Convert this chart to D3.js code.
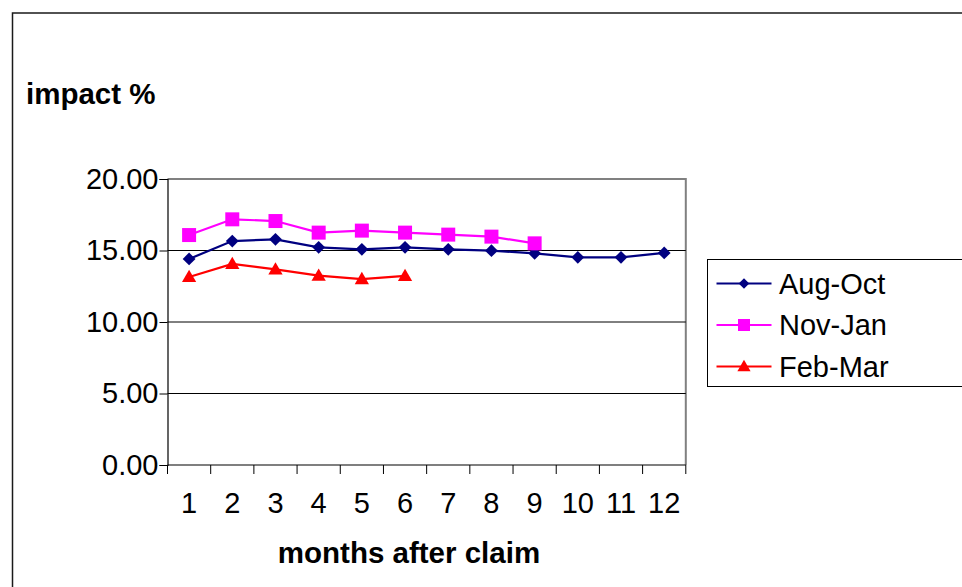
<!DOCTYPE html>
<html>
<head>
<meta charset="utf-8">
<script src="https://cdn.jsdelivr.net/npm/d3@7"></script>
<style>
  html, body { margin: 0; padding: 0; background: #fff; }
  svg { display: block; }
  text { font-family: "Liberation Sans", Arial, sans-serif; fill: #000; }
</style>
</head>
<body>
<svg id="chart" width="962" height="587"></svg>
<script>
// Months after claim (category axis)
const months = [1, 2, 3, 4, 5, 6, 7, 8, 9, 10, 11, 12];
// Impact % by claim period
const augOct = [14.41, 15.66, 15.78, 15.22, 15.08, 15.22, 15.08, 14.99, 14.80, 14.52, 14.52, 14.83];
const novJan = [16.08, 17.18, 17.06, 16.25, 16.39, 16.25, 16.11, 15.97, 15.50];
const febMar = [13.15, 14.06, 13.68, 13.24, 13.00, 13.22];
const seriesNames = ["Aug-Oct", "Nov-Jan", "Feb-Mar"];
const yTicks = [0, 5, 10, 15, 20];

const series = [
  { name: seriesNames[0], values: augOct, color: "#000080", shape: "diamond" },
  { name: seriesNames[1], values: novJan, color: "#FF00FF", shape: "square" },
  { name: seriesNames[2], values: febMar, color: "#FF0000", shape: "triangle" }
];

const svg = d3.select("#chart");

// Outer chart frame
svg.append("rect")
  .attr("x", 12.5).attr("y", 13).attr("width", 980).attr("height", 600)
  .attr("fill", "none").attr("stroke", "#1a1a1a").attr("stroke-width", 1.5);

const plot = { left: 167.5, right: 685.8, top: 179, bottom: 465 };

const x = d3.scaleBand().domain(months).range([plot.left, plot.right]).padding(0);
const y = d3.scaleLinear().domain([0, 20]).range([plot.bottom, plot.top]);

// Plot area border (top & right in grey)
svg.append("path")
  .attr("d", `M${plot.left},${plot.top}H${plot.right}V${plot.bottom}`)
  .attr("fill", "none").attr("stroke", "#808080").attr("stroke-width", 2);

// Horizontal gridlines
svg.append("g")
  .selectAll("line")
  .data(yTicks.filter(d => d > 0 && d < 20))
  .join("line")
  .attr("x1", plot.left).attr("x2", plot.right)
  .attr("y1", d => y(d)).attr("y2", d => y(d))
  .attr("stroke", "#000").attr("stroke-width", 1);

// Y axis
const yAxis = svg.append("g")
  .attr("transform", `translate(${plot.left},0)`)
  .call(d3.axisLeft(y).tickValues(yTicks).tickFormat(d3.format(".2f")).tickSize(8).tickPadding(1));
yAxis.select(".domain").attr("stroke", "#000").attr("stroke-width", 1.2);
yAxis.selectAll(".tick line").attr("stroke", "#000");
yAxis.selectAll("text")
  .style("font-size", "29px").attr("fill", "#000");

// X axis: ticks on category boundaries, labels centred in categories
const xAxisG = svg.append("g").attr("transform", `translate(0,${plot.bottom})`);
xAxisG.append("line")
  .attr("x1", plot.left).attr("x2", plot.right)
  .attr("stroke", "#000").attr("stroke-width", 1.2);
const boundaries = months.map(m => x(m)).concat([plot.right]);
xAxisG.selectAll("line.tk")
  .data(boundaries)
  .join("line").attr("class", "tk")
  .attr("x1", d => d).attr("x2", d => d)
  .attr("y1", 0).attr("y2", 9)
  .attr("stroke", "#000");
xAxisG.selectAll("text")
  .data(months)
  .join("text")
  .attr("x", d => x(d) + x.bandwidth() / 2)
  .attr("y", 48)
  .attr("text-anchor", "middle")
  .style("font-size", "29px")
  .text(d => d);

// Axis titles
svg.append("text")
  .attr("x", 26).attr("y", 104)
  .style("font-size", "29.5px").style("font-weight", "bold")
  .text("impact %");
svg.append("text")
  .attr("x", 409).attr("y", 563)
  .attr("text-anchor", "middle")
  .style("font-size", "29.5px").style("font-weight", "bold")
  .text("months after claim");

// Marker generators
function markerPath(shape, big) {
  if (shape === "diamond") return d3.symbol().type(d3.symbolSquare).size(big ? 82 : 56)();
  if (shape === "square") return d3.symbol().type(d3.symbolSquare).size(big ? 196 : 144)();
  return d3.symbol().type(d3.symbolTriangle).size(big ? 88 : 76)();
}
function markerTransform(shape, px, py) {
  if (shape === "diamond") return `translate(${px},${py}) rotate(45)`;
  if (shape === "triangle") return `translate(${px},${py + 1})`;
  return `translate(${px},${py})`;
}

const line = d3.line()
  .x((d, i) => x(months[i]) + x.bandwidth() / 2)
  .y(d => y(d));

series.forEach(s => {
  const g = svg.append("g");
  g.append("path")
    .attr("d", line(s.values))
    .attr("fill", "none").attr("stroke", s.color).attr("stroke-width", 2.2);
  g.selectAll("path.m")
    .data(s.values)
    .join("path").attr("class", "m")
    .attr("d", markerPath(s.shape, true))
    .attr("transform", (d, i) => markerTransform(s.shape, x(months[i]) + x.bandwidth() / 2, y(d)))
    .attr("fill", s.color);
});

// Legend
const legend = svg.append("g");
legend.append("rect")
  .attr("x", 707.5).attr("y", 259.5).attr("width", 300).attr("height", 127)
  .attr("fill", "#fff").attr("stroke", "#000").attr("stroke-width", 1);
const legendY = [283.5, 325, 366.5];
series.forEach((s, i) => {
  const ly = legendY[i];
  legend.append("line")
    .attr("x1", 716.5).attr("x2", 771.5).attr("y1", ly).attr("y2", ly)
    .attr("stroke", s.color).attr("stroke-width", 2);
  legend.append("path")
    .attr("d", markerPath(s.shape, false))
    .attr("transform", markerTransform(s.shape, 744, ly))
    .attr("fill", s.color);
  legend.append("text")
    .attr("x", 779).attr("y", ly).attr("dy", "0.36em")
    .style("font-size", "29px")
    .text(s.name);
});
</script>
</body>
</html>
